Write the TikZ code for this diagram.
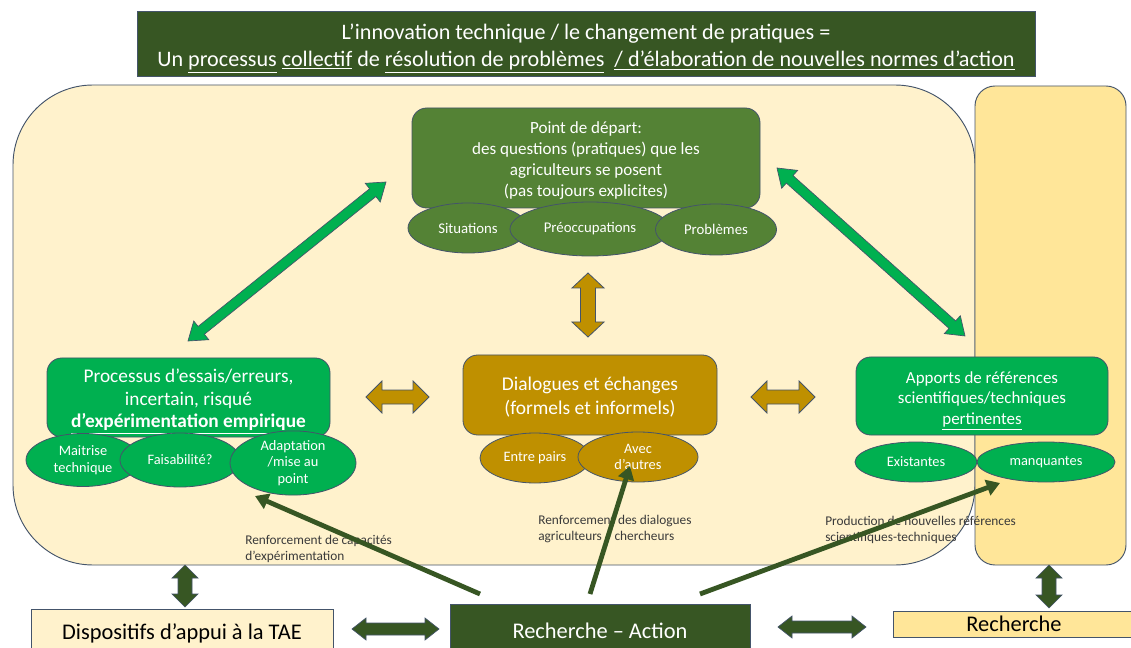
\documentclass[tikz,border=0pt]{standalone}
\usepackage{fontspec}
\setmainfont{Carlito}
\usetikzlibrary{shapes.geometric,arrows.meta}
\definecolor{dkgreen}{HTML}{375623}
\definecolor{midgreen}{HTML}{548235}
\definecolor{brgreen}{HTML}{00B050}
\definecolor{gold}{HTML}{BF9000}
\definecolor{cream}{HTML}{FFF2CC}
\definecolor{yell}{HTML}{FFE699}
\definecolor{bord}{HTML}{44546A}
\definecolor{txtgrey}{HTML}{3A3A3A}
\newcommand{\pxu}{0.75pt}
\newcommand{\fsz}[2]{\fontsize{#1}{#2}\selectfont}
\newcommand{\barrow}[8]{%
  \pgfmathsetmacro{\bang}{atan2(-(#4-#2),#3-#1)}%
  \pgfmathsetmacro{\blen}{veclen(#3-#1,#4-#2)}%
  \pgfmathsetmacro{\bk}{#7}%
  \pgfmathsetmacro{\bL}{\blen-#7}%
  \draw[#8, shift={(#1,#2)}, rotate=\bang] (0,0) -- (\bk,#6) -- (\bk,#5) -- (\bL,#5) -- (\bL,#6) -- (\blen,0) -- (\bL,-#6) -- (\bL,-#5) -- (\bk,-#5) -- (\bk,-#6) -- cycle;%
}
\tikzset{
  box/.style={draw=bord, line width=0.6pt, rounded corners=11pt, inner sep=0pt},
  boxtext/.style={align=center, text=white, inner sep=0pt},
  ell/.style={ellipse, draw=bord, line width=0.6pt, align=center, text=white, inner sep=0pt},
  flat/.style={draw=bord, line width=0.6pt, align=center, inner sep=0pt},
  lbl/.style={align=left, text=txtgrey, inner sep=0pt, font=\fsz{10pt}{12pt}},
  thinarr/.style={draw=dkgreen, line width=3.6pt, -{Triangle[length=10pt,width=12pt]}},
  garr/.style={fill=brgreen, draw=bord, line width=0.5pt},
  goarr/.style={fill=gold, draw=bord, line width=0.6pt},
  darr/.style={fill=dkgreen, draw=bord, line width=0.5pt}
}
\begin{document}
\begin{tikzpicture}[x=0.75pt,y=-0.75pt]
\clip (0,0) rectangle (1131,648);
\fill[white] (0,0) rectangle (1131,648);
% frames
\draw[fill=cream, draw=bord, line width=0.7pt, rounded corners=60pt] (13,85) rectangle (975,565);
\draw[fill=yell, draw=bord, line width=0.7pt, rounded corners=15pt] (975,86) rectangle (1126,565);
% title
\node[flat, fill=dkgreen, minimum width=898*\pxu, minimum height=65*\pxu] (title) at (586,43.5) {};
\node[boxtext, font=\fsz{16.6pt}{20pt}] (titletext) at (586,48.5)
  {L’innovation technique / le changement de pratiques =\\
   Un \underline{processus} \underline{collectif} de \underline{résolution de problèmes}\ \ \underline{/ d’élaboration de nouvelles normes d’action}};
% labels
\node[lbl, anchor=west] (l1) at (245,549) {Renforcement de capacités\\d’expérimentation};
\node[lbl, anchor=west] (l2) at (538,529) {Renforcement des dialogues\\agriculteurs – chercheurs};
\node[lbl, anchor=west] (l3) at (825,530) {Production de nouvelles références\\scientifiques-techniques};
% green double arrows
\barrow{188}{341}{386}{182}{5}{12}{17}{garr}
\barrow{777}{168}{965}{336}{5}{12}{17}{garr}
% point de depart
\node[box, fill=midgreen, minimum width=348*\pxu, minimum height=100*\pxu] (pd) at (586,158) {};
\node[boxtext, font=\fsz{12.8pt}{15.75pt}] (pdtext) at (586,161)
  {Point de départ:\\des questions (pratiques) que les\\agriculteurs se posent\\(pas toujours explicites)};
\node[ell, fill=midgreen, minimum width=120*\pxu, minimum height=50*\pxu, font=\fsz{11.1pt}{12pt}] (sit) at (468,228) {Situations};
\node[ell, fill=midgreen, minimum width=160*\pxu, minimum height=54*\pxu, font=\fsz{11.1pt}{12pt}] (pre) at (590,229) {Préoccupations};
\node[ell, fill=midgreen, minimum width=121*\pxu, minimum height=51*\pxu, font=\fsz{11.1pt}{12pt}] (pb) at (716,229.5) {Problèmes};
% processus
\node[box, fill=brgreen, minimum width=283*\pxu, minimum height=79*\pxu] (proc) at (188.5,397.5) {};
\node[boxtext, font=\fsz{14.5pt}{16.9pt}] (proctext) at (188.5,401.5)
  {Processus d’essais/erreurs,\\incertain, risqué\\\textbf{\underline{d’expérimentation empirique}}};
\node[ell, fill=brgreen, minimum width=114*\pxu, minimum height=53*\pxu, font=\fsz{10.8pt}{12.6pt}] (mt) at (83,460) {Maitrise\\technique};
\node[ell, fill=brgreen, minimum width=120*\pxu, minimum height=54*\pxu, font=\fsz{10.8pt}{12.6pt}] (fa) at (180,460) {Faisabilité?};
\node[ell, fill=brgreen, minimum width=126*\pxu, minimum height=55*\pxu, font=\fsz{10.8pt}{12.4pt}] (ad) at (293,463) {Adaptation\\/mise au\\point};
% dialogues
\node[box, fill=gold, minimum width=254*\pxu, minimum height=80*\pxu] (dial) at (590,395) {};
\node[boxtext, font=\fsz{14.6pt}{18pt}] (dialtext) at (590,397.5)
  {Dialogues et échanges\\(formels et informels)};
\node[ell, fill=gold, minimum width=110*\pxu, minimum height=50*\pxu, font=\fsz{10.8pt}{12.6pt}] (ep) at (535,458) {Entre pairs};
\node[ell, fill=gold, minimum width=120*\pxu, minimum height=50*\pxu, font=\fsz{10.8pt}{12.6pt}] (aa) at (638,457) {Avec\\d’autres};
% apports
\node[box, fill=brgreen, minimum width=252*\pxu, minimum height=78*\pxu] (app) at (982,396) {};
\node[boxtext, font=\fsz{12.7pt}{15.4pt}] (apptext) at (982,400.5)
  {Apports de références\\scientifiques/techniques\\\underline{pertinentes}};
\node[ell, fill=brgreen, minimum width=122*\pxu, minimum height=40*\pxu, font=\fsz{10.8pt}{12.6pt}] (ex) at (916,462) {Existantes};
\node[ell, fill=brgreen, minimum width=138*\pxu, minimum height=40*\pxu, font=\fsz{10.8pt}{12.6pt}] (mq) at (1046,462) {manquantes};
% gold arrows
\barrow{588}{273}{588}{337}{7.5}{16}{15}{goarr}
\barrow{366}{397}{429}{397}{7}{16}{16}{goarr}
\barrow{751}{397}{815}{397}{7}{16}{16}{goarr}
% bottom boxes
\node[flat, fill=cream, text=black, minimum width=302*\pxu, minimum height=48*\pxu, font=\fsz{16.8pt}{19pt}] (disp) at (182,633) {Dispositifs d’appui à la TAE};
\node[flat, fill=dkgreen, text=white, minimum width=300*\pxu, minimum height=54*\pxu, font=\fsz{16.8pt}{19pt}] (ra) at (600,631) {Recherche – Action};
\node[flat, fill=yell, text=black, minimum width=242*\pxu, minimum height=26*\pxu, font=\fsz{16.8pt}{19pt}] (rech) at (1014,624) {Recherche};
% dark block arrows
\barrow{185}{565}{185}{607}{7}{13}{13}{darr}
\barrow{352}{629}{439}{629}{6}{11}{14}{darr}
\barrow{778}{627}{866}{627}{6}{11}{14}{darr}
\barrow{1049}{565}{1049}{608}{7}{13}{13}{darr}
% thin arrows from Recherche-Action
\coordinate (ra1) at (480,594);
\coordinate (ra2) at (590,594);
\coordinate (ra3) at (700,594);
\coordinate (t1) at (255,496);
\coordinate (t2) at (630,466);
\coordinate (t3) at (1000,483);
\draw[thinarr] (ra1) -- (t1);
\draw[thinarr] (ra2) -- (t2);
\draw[thinarr] (ra3) -- (t3);
\end{tikzpicture}
\end{document}
